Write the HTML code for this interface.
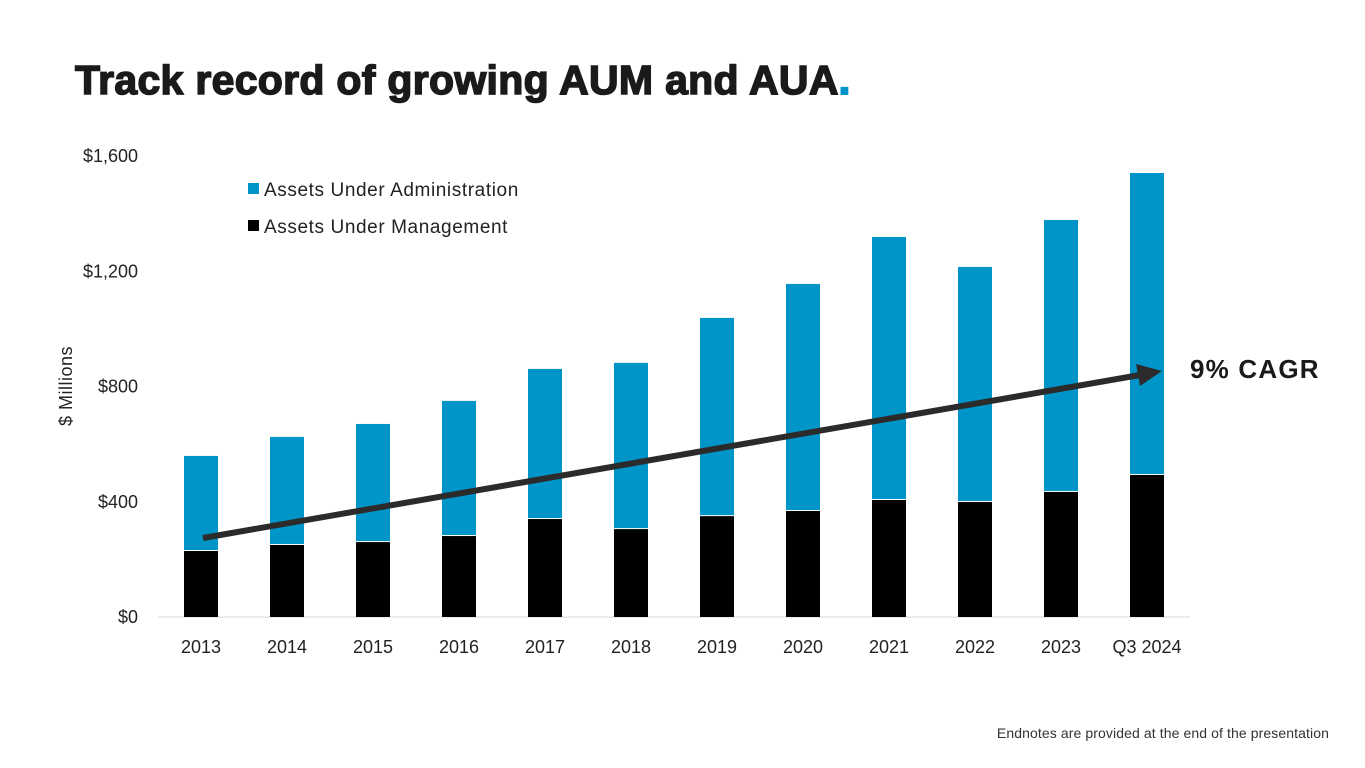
<!DOCTYPE html>
<html><head><meta charset="utf-8"><style>
body{margin:0;width:1365px;height:768px;background:#fff;font-family:"Liberation Sans",sans-serif;overflow:hidden}
</style></head><body>
<div style="position:absolute;left:75px;top:57px;font-size:41px;font-weight:bold;color:#1a1a1a;letter-spacing:0.3px;-webkit-text-stroke:1.5px #1a1a1a">Track record of growing AUM and AUA<span style="color:#0095c8;-webkit-text-stroke:2px #0095c8">.</span></div>
<svg id="chart" width="1365" height="768" style="position:absolute;left:0;top:0"></svg>
<div style="position:absolute;right:36px;top:725px;font-size:14px;color:#333;letter-spacing:0.1px">Endnotes are provided at the end of the presentation</div>
<script>
const categories=["2013","2014","2015","2016","2017","2018","2019","2020","2021","2022","2023","Q3 2024"];
const aum=[229,250,260,281,340,305,350,368,406,399,434,493];
const aua=[330,375,410,469,521,577,688,788,913,816,944,1048];
const yTicks=[0,400,800,1200,1600];
const yTickLabels=["$0","$400","$800","$1,200","$1,600"];
const NS="http://www.w3.org/2000/svg",svg=document.getElementById('chart');
const y0=617,y1=156,vmax=1600;
const y=v=>y0-(v/vmax)*(y0-y1);
const x=i=>201+i*86;
function mk(t,a,txt){const e=document.createElementNS(NS,t);for(const k in a)e.setAttribute(k,a[k]);if(txt!=null)e.textContent=txt;svg.appendChild(e);return e;}
yTicks.forEach((v,i)=>{const t=mk('text',{x:138,y:y(v)+6,'text-anchor':'end','font-size':18,fill:'#222'},yTickLabels[i]);

});
const base=mk('line',{x1:158,x2:1190,y1:y0,y2:y0,stroke:'#d9d9d9','stroke-width':1});


categories.forEach((c,i)=>{
 const r1=mk('rect',{x:x(i)-17,y:y(aum[i]),width:34,height:y0-y(aum[i]),fill:'#000'});
 
 
 const r2=mk('rect',{x:x(i)-17,y:y(aum[i]+aua[i]),width:34,height:y(aum[i])-y(aum[i]+aua[i])-1,fill:'#0095c8'});
 
 
 const t=mk('text',{x:x(i),y:653,'text-anchor':'middle','font-size':18,fill:'#222'},c);
 
 
});
const yt=mk('text',{x:0,y:0,'font-size':18,fill:'#222','text-anchor':'middle','letter-spacing':'0.5',transform:'translate(72,386) rotate(-90)'},'$ Millions');


[["#0095c8","Assets Under Administration",189],["#000","Assets Under Management",226]].forEach(([c,l,yy])=>{
 const s=mk('rect',{x:248,y:yy-6,width:11,height:11,fill:c});
 
 
 const t=mk('text',{x:264,y:yy+7,'font-size':19,'letter-spacing':'0.6',fill:'#222'},l);
 
 
});
const ar=mk('line',{x1:203,y1:538,x2:1140,y2:375,stroke:'#2b2b2b','stroke-width':6});


const ah=mk('polygon',{points:'1162,371 1136,364 1140,386',fill:'#2b2b2b'});


const cg=mk('text',{x:1190,y:378,'font-size':26,'font-weight':'bold','letter-spacing':'1.2',fill:'#1a1a1a'},'9% CAGR');


</script>
</body></html>
